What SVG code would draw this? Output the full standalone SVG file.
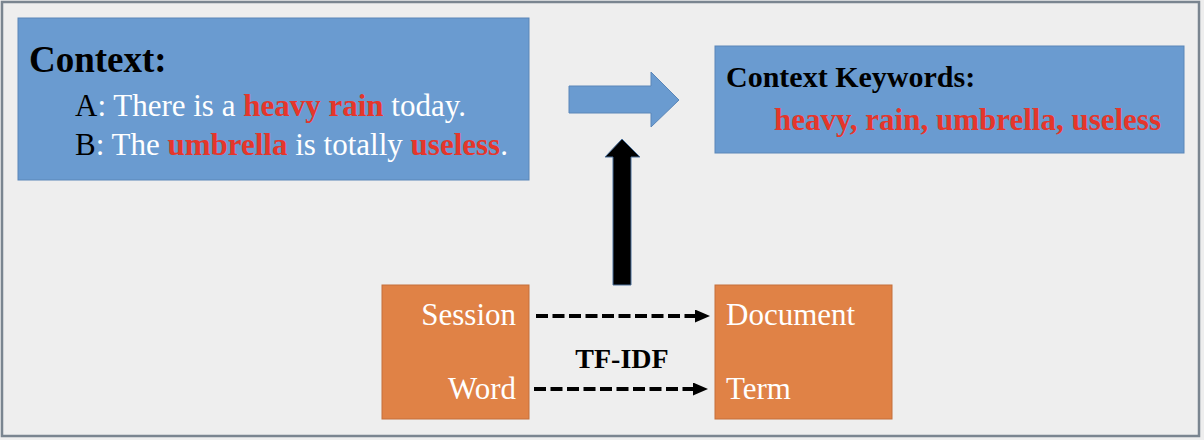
<svg xmlns="http://www.w3.org/2000/svg" width="1204" height="440" viewBox="0 0 1204 440">
<style>
.blue{fill:#6A9BD0;stroke:#5A86B8;stroke-width:1}
.orange{fill:#E08246;stroke:#C46F3A;stroke-width:1}
.t{font-family:"Liberation Serif","Times New Roman",serif}
.b{font-weight:bold}
.red{fill:#E5362B;font-weight:bold}
.w{fill:#FFFFFF}
.k{fill:#000000}
.dash{stroke:#000;stroke-width:4;stroke-dasharray:12 4.5;fill:none}
</style>
<defs>
<marker id="ah" markerWidth="15" markerHeight="13" refX="0" refY="6.5" orient="auto" markerUnits="userSpaceOnUse">
<path d="M0,0 L15,6.5 L0,13 Z" fill="#000"/>
</marker>
</defs>
<rect x="0" y="0" width="1204" height="440" fill="#EEEEEE"/>
<rect x="2" y="2" width="1197" height="434" fill="#EEEEEE" stroke="#7A8590" stroke-width="2.5"/>

<g id="context">
<rect class="blue" x="18" y="18" width="511" height="162"/>
<text class="t b k" x="29" y="72" font-size="37">Context:</text>
<text class="t" x="75" y="116" font-size="31"><tspan class="k">A</tspan><tspan class="w">: There is a </tspan><tspan class="red">heavy rain</tspan><tspan class="w"> today.</tspan></text>
<text class="t" x="75" y="155" font-size="31"><tspan class="k">B</tspan><tspan class="w">: The </tspan><tspan class="red">umbrella</tspan><tspan class="w"> is totally </tspan><tspan class="red">useless</tspan><tspan class="w">.</tspan></text>
</g>

<g id="keywords">
<rect class="blue" x="715" y="46" width="469" height="107"/>
<text class="t b k" x="726" y="87" font-size="30">Context Keywords:</text>
<text class="t red" x="774" y="130" font-size="31">heavy, rain, umbrella, useless</text>
</g>

<g id="session">
<rect class="orange" x="382" y="285" width="147" height="134"/>
<text class="t w" x="516" y="325" font-size="31" text-anchor="end">Session</text>
<text class="t w" x="516" y="399" font-size="31" text-anchor="end">Word</text>
</g>

<g id="document">
<rect class="orange" x="715" y="285" width="177" height="134"/>
<text class="t w" x="726" y="325" font-size="31">Document</text>
<text class="t w" x="726" y="399" font-size="31">Term</text>
</g>

<g id="connectors">
<path class="blue" d="M569,86 L651,86 L651,72 L679,100 L651,127 L651,113 L569,113 Z"/>
<path d="M613,285 L613,157 L605,157 L622,139 L640,157 L631,157 L631,285 Z" fill="#000" stroke="#4A6F99" stroke-width="1"/>
<line class="dash" x1="536" y1="316" x2="695" y2="316" marker-end="url(#ah)"/>
<line class="dash" x1="534" y1="389" x2="693" y2="389" marker-end="url(#ah)"/>
<text class="t b k" x="622" y="368" font-size="28" text-anchor="middle">TF-IDF</text>
</g>
</svg>
